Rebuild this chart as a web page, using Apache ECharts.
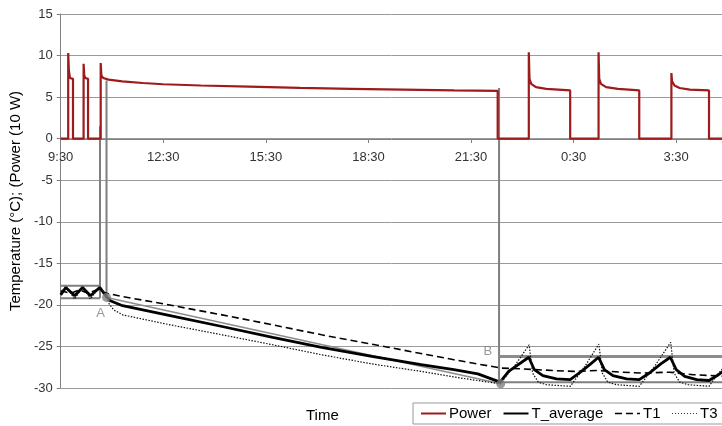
<!DOCTYPE html>
<html>
<head>
<meta charset="utf-8">
<script src="https://cdn.jsdelivr.net/npm/echarts@6/dist/echarts.min.js"></script>
<style>
  html, body { margin: 0; padding: 0; background: #fff; }
  #chart { width: 722px; height: 426px; }
</style>
</head>
<body>
<div id="chart"></div>
<script>
// x values are hours since 9:30
const tickHours = [0, 3, 6, 9, 12, 15, 18];
const tickLabels = ['9:30', '12:30', '15:30', '18:30', '21:30', '0:30', '3:30'];

const power = [
  [0, 0], [0.22, 0], [0.22, 10.3], [0.24, 8.2], [0.27, 7.3], [0.36, 7.2], [0.36, 0],
  [0.67, 0], [0.67, 9.0], [0.69, 7.6], [0.72, 7.3], [0.80, 7.2], [0.80, 0],
  [1.17, 0], [1.17, 9.1], [1.19, 7.6], [1.24, 7.3], [1.4, 7.1], [1.8, 6.9], [2.4, 6.7],
  [3.0, 6.55], [4.1, 6.4], [5.5, 6.25], [7.0, 6.1], [8.5, 6.0], [10.0, 5.9], [11.5, 5.8],
  [12.78, 5.75], [12.78, 0],
  [13.69, 0], [13.69, 10.4], [13.71, 7.2], [13.76, 6.6], [13.9, 6.2], [14.2, 6.0], [14.9, 5.8], [14.9, 0],
  [15.73, 0], [15.73, 10.4], [15.75, 7.2], [15.8, 6.6], [15.95, 6.2], [16.3, 6.0], [16.92, 5.8], [16.92, 0],
  [17.86, 0], [17.86, 7.9], [17.88, 6.9], [17.95, 6.4], [18.1, 6.1], [18.4, 5.9], [18.96, 5.8], [18.96, 0],
  [19.5, 0]
];

const tAverage = [
  [0, -18.8], [0.15, -17.9], [0.41, -18.9], [0.64, -17.9], [0.87, -18.9], [1.14, -17.9],
  [1.34, -19.0], [1.45, -19.5], [1.81, -20.1], [3.2, -21.3], [4.72, -22.6], [6.2, -23.9],
  [7.63, -25.1], [9.1, -26.2], [10.54, -27.2], [11.5, -27.8], [12.2, -28.3], [12.85, -29.3],
  [13.1, -28.0], [13.69, -26.3], [13.85, -27.8], [14.1, -28.5], [14.5, -28.9], [14.9, -29.0],
  [15.2, -28.1], [15.5, -27.1], [15.73, -26.3], [15.9, -27.8], [16.15, -28.5], [16.55, -28.9],
  [16.92, -29.0], [17.25, -28.1], [17.55, -27.1], [17.83, -26.3], [18.0, -27.8], [18.25, -28.6],
  [18.6, -29.0], [18.96, -29.1], [19.2, -28.5], [19.5, -27.6]
];

const t1 = [
  [0, -18.3], [0.3, -18.6], [0.55, -18.2], [0.8, -18.6], [1.05, -18.2], [1.34, -18.6],
  [1.81, -19.0], [2.77, -19.7], [4.72, -21.2], [6.2, -22.4], [7.63, -23.6], [9.58, -25.1],
  [11.5, -26.6], [12.87, -27.6], [13.5, -27.7], [14.4, -27.9], [15.0, -28.0], [15.7, -27.9],
  [16.4, -28.1], [17.0, -28.2], [17.8, -28.1], [18.5, -28.4], [19.5, -28.6]
];

const t3 = [
  [0, -18.5], [0.15, -17.8], [0.41, -19.3], [0.64, -17.8], [0.87, -19.3], [1.14, -17.8],
  [1.34, -19.0], [1.42, -19.9], [1.55, -20.6], [1.81, -21.2], [3.2, -22.4], [4.72, -23.6],
  [6.2, -24.8], [7.63, -26.0], [9.1, -27.1], [10.54, -28.0], [11.7, -28.8], [12.85, -29.5],
  [13.3, -27.2], [13.7, -24.8], [13.8, -28.2], [13.97, -29.3], [14.2, -29.6], [14.9, -29.8],
  [15.3, -27.6], [15.74, -24.7], [15.84, -28.2], [16.0, -29.3], [16.25, -29.6], [16.92, -29.8],
  [17.35, -27.5], [17.84, -24.5], [17.94, -28.2], [18.1, -29.3], [18.35, -29.6], [18.96, -29.8],
  [19.2, -28.4], [19.5, -27.0]
];

// gray annotation lines
const graySegments = [
  [[0, -17.7], [1.15, -17.7]],
  [[0, -19.2], [1.15, -19.2]],
  [[1.15, 1.5], [1.15, -19.2]],
  [[1.34, 7.0], [1.34, -19.1]],
  [[12.82, 6.1], [12.82, -29.5]],
  [[12.82, -29.3], [19.5, -29.3]]
];
const grayThick = [[12.82, -26.2], [19.5, -26.2]];
const trendAB = [[1.34, -19.1], [12.87, -29.5]];
const pointNames = ['A', 'B'];
const pointValues = [[1.34, -19.1], [12.87, -29.5]];

const chart = echarts.init(document.getElementById('chart'));
const font = '"Liberation Sans", Arial, sans-serif';

const series = [];
graySegments.forEach(seg => {
  series.push({
    type: 'line', data: seg, symbol: 'none', silent: true, z: 1,
    lineStyle: { color: '#7f7f7f', width: 2 }
  });
});
series.push({
  type: 'line', data: grayThick, symbol: 'none', silent: true, z: 1,
  lineStyle: { color: '#8c8c8c', width: 3 }
});
series.push({
  type: 'line', data: trendAB, symbol: 'none', silent: true, z: 1,
  lineStyle: { color: '#8c8c8c', width: 1.5 }
});
series.push({
  name: 'Power', type: 'line', data: power, symbol: 'none', z: 3,
  lineStyle: { color: '#9e1b1b', width: 2.2 }, itemStyle: { color: '#9e1b1b' }
});
series.push({
  name: 'T_average', type: 'line', data: tAverage, symbol: 'none', z: 4,
  lineStyle: { color: '#000', width: 2.8 }, itemStyle: { color: '#000' }
});
series.push({
  name: 'T1', type: 'line', data: t1, symbol: 'none', z: 4,
  lineStyle: { color: '#000', width: 1.6, type: [7, 4] }, itemStyle: { color: '#000' }
});
series.push({
  name: 'T3', type: 'line', data: t3, symbol: 'none', z: 4,
  lineStyle: { color: '#111', width: 1.2, type: [1.5, 1.5] }, itemStyle: { color: '#111' }
});
series.push({
  type: 'scatter', symbolSize: 9, z: 5, silent: true,
  itemStyle: { color: '#7f7f7f' },
  data: pointValues.map((v, i) => ({
    value: v, name: pointNames[i],
    label: i === 0
      ? { show: true, position: 'bottom', offset: [-6, 0] }
      : { show: true, position: 'top', offset: [-13, -16] }
  })),
  label: { formatter: '{b}', color: '#808080', fontSize: 13, fontFamily: font }
});

chart.setOption({
  animation: false,
  backgroundColor: '#fff',
  grid: { left: 58, right: 0, top: 14, bottom: 38 },
  title: {
    text: 'Time', left: 301, top: 403,
    textStyle: { fontSize: 15, fontWeight: 'normal', color: '#000', fontFamily: font }
  },
  legend: {
    left: 413, top: 403, width: 420,
    padding: [3, 40, 3, 7],
    borderColor: '#999', borderWidth: 1, backgroundColor: '#fff',
    itemWidth: 25, itemHeight: 14, itemGap: 11,
    itemStyle: { opacity: 0 },
    data: [
      { name: 'Power', lineStyle: { color: '#9e1b1b', width: 2 } },
      { name: 'T_average', lineStyle: { color: '#000', width: 2 } },
      { name: 'T1', lineStyle: { color: '#000', width: 1.5, type: [7, 4] } },
      { name: 'T3', lineStyle: { color: '#333', width: 1, type: [1, 2] } }
    ],
    textStyle: { fontSize: 15, color: '#000', fontFamily: font, padding: [0, 0, 0, -2] }
  },
  xAxis: {
    type: 'value', min: 0, max: 19.34, interval: 3,
    position: 'bottom', offset: -249,
    axisLine: { onZero: false, lineStyle: { color: '#808080', width: 1 } },
    axisTick: { show: true, length: 4, lineStyle: { color: '#808080' } },
    splitLine: { show: false },
    axisLabel: {
      showMaxLabel: false, margin: 12, fontSize: 13, color: '#333', fontFamily: font,
      formatter: v => {
        const i = tickHours.indexOf(Math.round(v));
        return i >= 0 ? tickLabels[i] : '';
      }
    }
  },
  yAxis: {
    type: 'value', min: -30, max: 15, interval: 5,
    name: 'Temperature (°C); (Power (10 W)',
    nameLocation: 'middle', nameGap: 33,
    nameTextStyle: { fontSize: 15, color: '#000', fontFamily: font },
    axisLine: { show: true, onZero: false, lineStyle: { color: '#808080' } },
    axisTick: { show: true, length: 4, lineStyle: { color: '#808080' } },
    splitLine: { show: true, lineStyle: { color: '#9a9a9a', width: 1 } },
    axisLabel: { fontSize: 13, color: '#333', margin: 8, fontFamily: font }
  },
  series: series
});
</script>
</body>
</html>
